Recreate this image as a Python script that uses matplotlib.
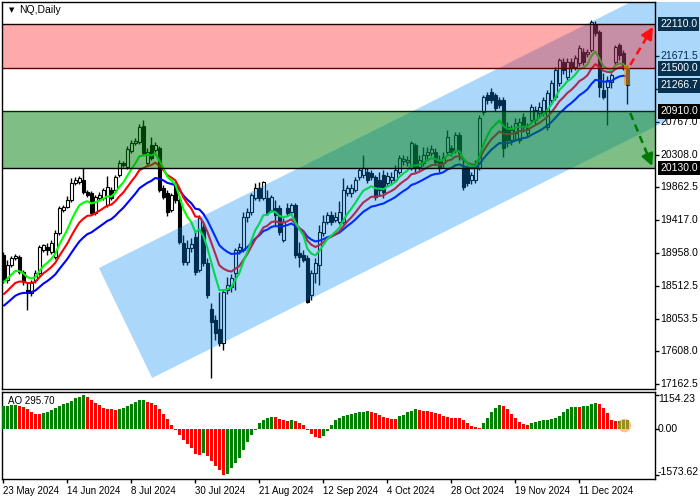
import matplotlib
matplotlib.use("Agg")
import matplotlib.pyplot as plt
import matplotlib.transforms as mtransforms
from matplotlib.patches import Rectangle, Polygon
import numpy as np
import pandas as pd

plt.rcParams['font.family'] = ['Liberation Sans', 'DejaVu Sans']

# ---------------- data ----------------
opens = [18934, 18590, 18796, 18893, 18906, 18700, 18453, 18411, 18590, 18686,
         19003, 19044, 18975, 18906, 19236, 19553, 19594, 19690, 19924, 19938,
         19965, 19800, 19786, 19511, 19718, 19718, 19621, 19828, 19828, 20034,
         20199, 20144, 20364, 20474, 20488, 20708, 20199, 20446, 20378, 20405,
         19855, 19786, 19553, 19896, 19690, 19099, 18838, 19030, 19181, 18728,
         19319, 18824, 18191, 18040, 17916, 17724, 18453, 18494, 18686, 19003,
         19003, 19456, 19525, 19718, 19855, 19718, 19718, 19553, 19580, 19580,
         19140, 19580, 19525, 19621, 18961, 18934, 18893, 18384, 18686, 18796,
         19236, 19388, 19484, 19415, 19388, 19388, 19786, 19786, 19828, 20006,
         20034, 20075, 20061, 20006, 19965, 20034, 19924, 19965, 19965, 20075,
         20226, 20213, 20130, 20446, 20144, 20199, 20309, 20336, 20350, 20240,
         20199, 20350, 20405, 20378, 20584, 20130, 20130, 19965, 19965, 20130,
         20900, 21134, 21175, 21134, 21065, 21065, 20694, 20515, 20611, 20515,
         20831, 20611, 20790, 20790, 20886, 20886, 20694, 21065, 21106, 21299,
         21588, 21381, 21588, 21519, 21574, 21725, 21698, 21753, 22096, 22000,
         21203, 21244, 21313, 21588, 21821, 21711, 21505]
highs = [18975, 18865, 18920, 18948, 18934, 18728, 18549, 18590, 18728, 19071,
         19085, 19099, 19140, 19278, 19608, 19621, 19745, 19993, 20006, 20020,
         20130, 19828, 19814, 19759, 19800, 19855, 20020, 19869, 20034, 20240,
         20226, 20433, 20515, 20543, 20735, 20790, 20405, 20556, 20488, 20433,
         19896, 19828, 19786, 19938, 19731, 19209, 19140, 19168, 19278, 19484,
         19388, 18893, 18274, 18109, 18425, 18466, 18631, 18673, 19030, 19099,
         19525, 19580, 19786, 19924, 19938, 19951, 19828, 19759, 19690, 19621,
         19443, 19649, 19649, 19649, 19113, 19003, 18934, 18728, 18893, 19346,
         19484, 19525, 19539, 19525, 19676, 19993, 19896, 19910, 20006, 20130,
         20309, 20130, 20103, 20034, 20075, 20103, 20075, 20075, 20171, 20309,
         20309, 20295, 20501, 20474, 20309, 20419, 20419, 20446, 20405, 20309,
         20350, 20653, 20446, 20625, 20625, 20240, 20171, 20075, 20240, 20859,
         21134, 21175, 21230, 21161, 21106, 21106, 20763, 20721, 20818, 20818,
         20886, 20749, 21010, 20983, 21038, 21106, 21203, 21340, 21519, 21643,
         21643, 21643, 21643, 21684, 21821, 21780, 21766, 22165, 22151, 22028,
         21436, 21395, 21436, 21821, 21849, 21753, 21546]
lows = [18549, 18549, 18769, 18865, 18673, 18521, 18178, 18370, 18549, 18659,
        18975, 18934, 18948, 18879, 19209, 19525, 19580, 19663, 19896, 19910,
        19773, 19731, 19484, 19484, 19690, 19690, 19594, 19690, 19800, 20006,
        20144, 20116, 20336, 20446, 20460, 20309, 20171, 20240, 20350, 19800,
        19704, 19470, 19525, 19649, 19085, 18796, 18796, 18975, 18659, 18700,
        18783, 18343, 17243, 17765, 17683, 17628, 18398, 18425, 18453, 18948,
        18975, 19388, 19484, 19690, 19676, 19690, 19484, 19525, 19346, 19209,
        19113, 19470, 19498, 18893, 18769, 18838, 18274, 18315, 18549, 18521,
        19195, 19360, 19346, 19388, 19360, 19360, 19745, 19731, 19800, 19965,
        19993, 19924, 19965, 19690, 19759, 19718, 19883, 19910, 19938, 20048,
        20171, 20158, 20103, 20075, 20103, 20158, 20240, 20295, 20171, 20075,
        20130, 20309, 20295, 20336, 20240, 19828, 19883, 19910, 19924, 20103,
        20859, 21010, 21024, 20914, 20955, 20281, 20419, 20446, 20515, 20474,
        20625, 20556, 20735, 20735, 20831, 20845, 20653, 21010, 21065, 21258,
        21423, 21340, 21450, 21478, 21533, 21546, 21656, 21725, 21945, 21106,
        21079, 20721, 21230, 21546, 21615, 21478, 21010]
closes = [18590, 18796, 18893, 18920, 18700, 18563, 18411, 18549, 18686, 19044,
          19071, 19003, 19099, 19236, 19580, 19594, 19690, 19924, 19965, 19993,
          19800, 19759, 19511, 19731, 19759, 19828, 19869, 19718, 20006, 20199,
          20171, 20391, 20474, 20501, 20694, 20336, 20350, 20268, 20446, 19828,
          19731, 19525, 19759, 19690, 19113, 18838, 19030, 19085, 18700, 19443,
          18824, 18384, 18013, 17861, 17724, 18425, 18521, 18618, 19003, 19044,
          19456, 19525, 19759, 19855, 19718, 19938, 19511, 19731, 19484, 19250,
          19388, 19511, 19621, 18934, 18906, 18865, 18288, 18686, 18824, 19250,
          19388, 19484, 19388, 19456, 19525, 19828, 19855, 19855, 19965, 20103,
          20130, 19965, 20006, 19731, 19828, 19800, 20020, 20006, 20103, 20268,
          20254, 20240, 20474, 20130, 20240, 20309, 20350, 20391, 20213, 20130,
          20281, 20556, 20350, 20584, 20336, 19869, 19924, 20034, 20130, 20818,
          21106, 21065, 21065, 20955, 20996, 20405, 20515, 20653, 20749, 20763,
          20694, 20680, 20969, 20928, 20969, 21065, 21161, 21299, 21478, 21615,
          21478, 21588, 21505, 21643, 21780, 21588, 21725, 22138, 21986, 21244,
          21106, 21340, 21409, 21794, 21684, 21519, 21266.7]
ao = [764, 787, 798, 821, 787, 730, 661, 581, 513, 490,
      536, 581, 638, 695, 764, 832, 889, 958, 1049, 1094,
      1154.23, 1094, 969, 878, 809, 695, 684, 661, 650, 673,
      718, 764, 855, 923, 969, 980, 912, 878, 809, 673,
      502, 331, 114, -57, -205, -388, -524, -673, -855, -901,
      -832, -923, -1106, -1265, -1425, -1573.62, -1550, -1345, -1174, -1003,
      -718, -467, -228, -34, 205, 296, 365, 410, 399, 319,
      296, 274, 296, 251, 194, 114, -34, -194, -274, -319,
      -262, -91, 125, 285, 376, 445, 479, 502, 524, 559,
      581, 593, 570, 536, 479, 388, 365, 331, 319, 445,
      479, 559, 616, 673, 650, 616, 604, 581, 536, 502,
      422, 399, 376, 365, 353, 308, 194, 103, 46, 34,
      194, 365, 559, 707, 821, 787, 684, 513, 365, 239,
      148, 137, 205, 228, 262, 285, 296, 319, 376, 445,
      559, 673, 730, 752, 741, 764, 787, 832, 878, 832,
      707, 536, 285, 251, 275, 290, 295.70]

date_labels = ["23 May 2024", "14 Jun 2024", "8 Jul 2024", "30 Jul 2024", "21 Aug 2024",
               "12 Sep 2024", "4 Oct 2024", "28 Oct 2024", "19 Nov 2024", "11 Dec 2024"]
date_index = [0, 16, 32, 48, 64, 80, 96, 112, 128, 144]
price_ticks = [21671.5, 21213.5, 20767.0, 20308.0, 19862.5, 19417.0, 18958.0,
               18512.5, 18053.5, 17608.0, 17162.5]
resistance_zone = [21500.0, 22110.0]
support_zone = [20130.0, 20910.0]
last_price = 21266.7
ao_ticks = [1154.23, 0.00, -1573.62]
ma_seed = [18550, 18360, 18200]       # green, red, blue start values
ma_span = [9, 15, 24]
# channel anchors (bar index, price)
channel = [(23.9, 18755), (37.2, 17242.5), (175, 21032), (175, 22910)]
up_arrow = [(156.7, 21546), (162.4, 22069)]
down_arrow = [(156.7, 20886), (162.2, 20157)]

# ---------------- figure ----------------
W, H = 700, 500
fig = plt.figure(figsize=(7, 5), dpi=100)
fig.patch.set_facecolor('white')


def fbox(x0, y0, x1, y1):
    return [x0 / W, 1 - y1 / H, (x1 - x0) / W, (y1 - y0) / H]


ax = fig.add_axes(fbox(2, 2, 655, 389))
ax2 = fig.add_axes(fbox(2, 392, 655, 479))

o = np.array(opens, float)
h = np.array(highs, float)
l = np.array(lows, float)
c = np.array(closes, float)
n = len(c)
x = np.arange(n)

ax.set_xlim(-0.33, 162.9)
ax.set_ylim(17091, 22412)

# candles
bull = c >= o
ax.vlines(x, l, h, color='black', lw=1, zorder=2)
ax.bar(x, np.maximum(np.abs(c - o), 8), bottom=np.minimum(o, c), width=0.62,
       color=np.where(bull, 'white', 'black'), edgecolor='black', linewidth=0.8, zorder=3)

# moving averages
cols = ['#00ff00', '#ff0000', '#0000ff']
mas = []
for seed, span in zip(ma_seed, ma_span):
    s = pd.Series([seed] + list(c)).ewm(span=span, adjust=False).mean().values[1:]
    mas.append(s)
for s, col in list(zip(mas, cols))[::-1]:
    ax.plot(x, s, color=col, lw=1.5, zorder=4, solid_capstyle='butt')

# right price labels
ytr = ax.get_yaxis_transform()
for p in price_ticks:
    ax.text(1.0 + 5 / 653, p, f"{p:.1f}", transform=ytr, fontsize=7.5, va='center',
            ha='left', color='black', clip_on=False, zorder=4)

# channel overlay (extends over the price scale)
chan = Polygon(channel, closed=True, fc=(0, 134 / 255, 240 / 255), alpha=0.33, ec='none', zorder=6)
ax.add_patch(chan)
clip = Rectangle((2 / W, 1 - 389 / H), 698 / W, 387 / H, transform=fig.transFigure)
chan.set_clip_path(clip)

# zones
ax.axhspan(*resistance_zone, fc=(1, 0, 0), alpha=0.333, lw=0, zorder=7)
ax.axhspan(*support_zone, fc=(0, 0.5, 0.06), alpha=0.5, lw=0, zorder=7)
ax.axhline(resistance_zone[1], color='#1a0000', lw=1, zorder=8)
ax.axhline(resistance_zone[0], color='#5a0000', lw=1, zorder=8)
ax.axhline(support_zone[1], color='#002a00', lw=1, zorder=8)
ax.axhline(support_zone[0], color='#000000', lw=1, zorder=8)

# highlight on last candle
ax.add_patch(Rectangle((n - 1 - 0.95, 21271), 1.7, 275, fc='#ff8c00', alpha=0.55, ec='none', zorder=8))


def dashed_arrow(p0, p1, col):
    (x0, y0), (x1, y1) = p0, p1
    xm, ym = x0 + 0.72 * (x1 - x0), y0 + 0.72 * (y1 - y0)
    ax.plot([x0, xm], [y0, ym], color=col, lw=1.8, ls=(0, (3, 2)), zorder=9, clip_on=False)
    ax.annotate('', xy=(x1, y1), xytext=(xm, ym),
                arrowprops=dict(arrowstyle='-|>,head_length=0.7,head_width=0.35', color=col,
                                lw=1.8, shrinkA=0, shrinkB=0), zorder=9, annotation_clip=False)


dashed_arrow(*up_arrow, '#ff1010')
dashed_arrow(*down_arrow, '#007a00')

# level label boxes
box_cols = {22110.0: '#08304f', 21500.0: '#08304f', 20910.0: '#000000', 20130.0: '#000000'}
for lvl in [resistance_zone[1], resistance_zone[0], support_zone[1], support_zone[0]]:
    ax.text(1.0 + 5 / 653, lvl, f"{lvl:.1f}", transform=ytr, fontsize=7.5, va='center', ha='left',
            color='white', clip_on=False, zorder=10,
            bbox=dict(boxstyle='square,pad=0.22', fc=box_cols[lvl], ec='none'))
ax.text(1.0 + 5 / 653, last_price, f"{last_price:.1f}", transform=ytr, fontsize=7.5, va='center',
        ha='left', color='white', clip_on=False, zorder=10,
        bbox=dict(boxstyle='square,pad=0.22', fc='#08304f', ec='none'))

ax.yaxis.tick_right()
ax.set_yticks(price_ticks)
ax.tick_params(axis='y', right=True, left=False, labelright=False, labelleft=False,
               length=3, width=1, color='black', direction='out')
ax.tick_params(axis='x', bottom=False, labelbottom=False)
for sp in ax.spines.values():
    sp.set_color('black')
    sp.set_linewidth(1)
    sp.set_zorder(11)

ax.text(7 / 653, 1 - 8 / 387, "\u25bc", transform=ax.transAxes, fontsize=5, va='center', ha='left',
        color='black', zorder=12, family=['DejaVu Sans'])
ax.text(17 / 653, 1 - 8 / 387, "NQ,Daily", transform=ax.transAxes, fontsize=7.5, va='center',
        ha='left', color='black', zorder=12)

# ---------------- AO panel ----------------
aov = np.array(ao, float)
ao_col = ['#008000'] + ['#008000' if aov[i] > aov[i - 1] else '#ff0000' for i in range(1, n)]
ax2.bar(x, aov, width=0.75, color=ao_col, lw=0, zorder=3)
ax2.set_xlim(-0.33, 162.9)
ax2.set_ylim(-1725, 1259)
ax2.yaxis.tick_right()
ax2.set_yticks(ao_ticks)
ax2.tick_params(axis='y', right=True, left=False, labelright=False, labelleft=False,
                length=3, width=1, color='black')
ytr2 = ax2.get_yaxis_transform()
offs = [-4, 0, 3]
for v, dy in zip(ao_ticks, offs):
    tr = mtransforms.offset_copy(ytr2, fig=fig, x=0, y=dy * 0.72, units='points')
    ax2.text(1.0 + 3 / 653, v, f"{v:.2f}", transform=tr, fontsize=7.5, va='center', ha='left',
             clip_on=False)
ax2.set_xticks(date_index)
ax2.set_xticklabels(date_labels, ha='left', fontsize=7)
ax2.tick_params(axis='x', bottom=True, length=3, width=1, pad=2, color='black')
for sp in ax2.spines.values():
    sp.set_color('black')
    sp.set_linewidth(1)
ax2.text(6 / 653, 1 - 9 / 87, f"AO {ao[-1]:.2f}", transform=ax2.transAxes, fontsize=7, va='center',
         ha='left', color='black', zorder=5)
ax2.scatter([n - 1 - 0.8], [140], s=95, color='#ff9a3c', alpha=0.6, lw=0, zorder=6)

fig.savefig("out.png", dpi=100)
